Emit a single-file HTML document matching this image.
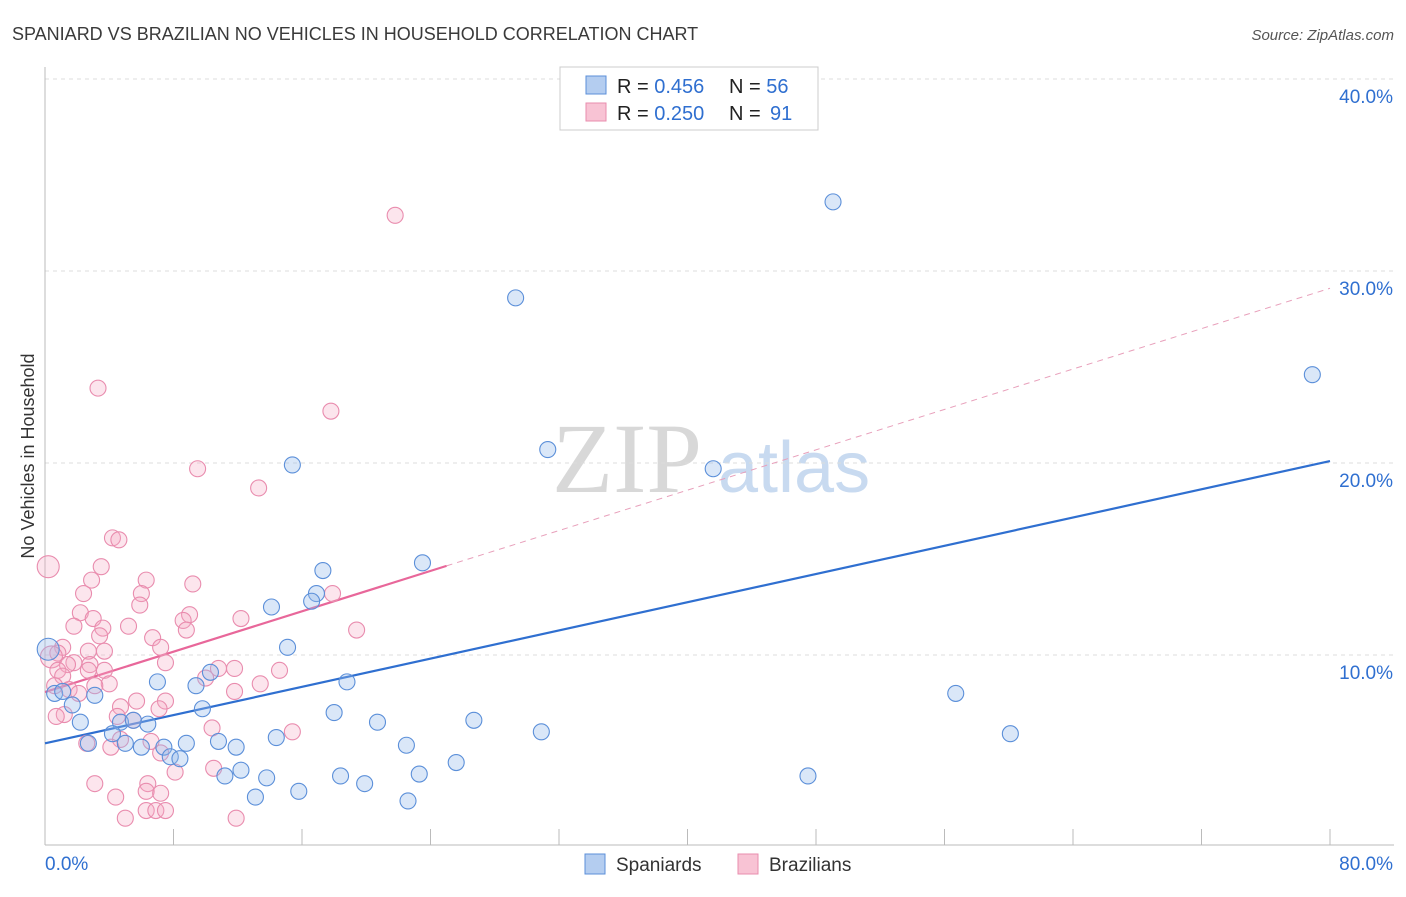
<!DOCTYPE html>
<html><head><meta charset="utf-8"><style>
body{margin:0;background:#fff;font-family:"Liberation Sans",sans-serif}
</style></head><body>
<svg id="chart" width="1406" height="892" xmlns="http://www.w3.org/2000/svg" font-family="Liberation Sans, sans-serif">
<text x="12" y="40" font-size="18" fill="#3a3a3a">SPANIARD VS BRAZILIAN NO VEHICLES IN HOUSEHOLD CORRELATION CHART</text>
<text x="1394" y="40" font-size="15" fill="#555" font-style="italic" text-anchor="end">Source: ZipAtlas.com</text>
<text x="34" y="456" font-size="18" fill="#333" text-anchor="middle" transform="rotate(-90 34 456)">No Vehicles in Household</text>
<g><text x="552" y="492" font-size="100" fill="#d8d8d8" style="font-family:'Liberation Serif',serif">ZIP</text><text x="718" y="492" font-size="72" fill="#c8daf0" style="font-family:'Liberation Sans',sans-serif">atlas</text></g>
<g id="grid"></g><g id="axes"></g><g id="lines"></g><g id="pts"></g>
<g>
<rect x="560" y="67" width="258" height="63" fill="#fff" stroke="#ccc"/>
<rect x="586" y="76" width="20" height="18" fill="#b4cdf0" stroke="#5b8fd9"/>
<rect x="586" y="103" width="20" height="18" fill="#f8c3d4" stroke="#e98cae"/>
<text x="617" y="93" font-size="20" fill="#222">R = <tspan fill="#2f6fd0">0.456</tspan></text>
<text x="729" y="93" font-size="20" fill="#222">N = <tspan fill="#2f6fd0">56</tspan></text>
<text x="617" y="120" font-size="20" fill="#222">R = <tspan fill="#2f6fd0">0.250</tspan></text>
<text x="729" y="120" font-size="20" fill="#222">N = <tspan fill="#2f6fd0" x="770">91</tspan></text>
</g>
<g>
<rect x="585" y="854" width="20" height="20" fill="#b4cdf0" stroke="#5b8fd9"/>
<text x="616" y="871" font-size="19" fill="#333">Spaniards</text>
<rect x="738" y="854" width="20" height="20" fill="#f8c3d4" stroke="#e98cae"/>
<text x="769" y="871" font-size="19" fill="#333">Brazilians</text>
</g>
</svg>
<script>
const yTicks=[10,20,30,40];
const xTickLabels=["0.0%","80.0%"];
const blueX=[49.06,29.3,78.9,31.3,41.6,15.4,23.5,17.3,16.9,16.6,14.1,15.1,0.2,7.0,10.3,9.4,18.8,56.7,0.6,1.1,3.1,1.7,9.8,18.0,2.2,26.7,20.7,4.7,6.4,5.5,30.9,60.1,4.2,14.4,10.8,2.7,5.0,8.8,22.5,7.4,6.0,11.9,7.8,8.4,25.6,12.2,11.2,13.8,18.4,23.3,47.5,19.9,15.8,13.1,22.6];
const blueY=[33.6,28.6,24.6,20.7,19.7,19.9,14.8,14.4,13.2,12.8,12.5,10.4,10.3,8.6,9.1,8.4,8.6,8.0,8.0,8.1,7.9,7.4,7.2,7.0,6.5,6.6,6.5,6.5,6.4,6.6,6.0,5.9,5.9,5.7,5.5,5.4,5.4,5.4,5.3,5.2,5.2,5.2,4.7,4.6,4.4,4.0,3.7,3.6,3.7,3.8,3.7,3.3,2.9,2.6,2.4];
const pinkX=[21.8,3.3,17.8,9.5,13.3,0.2,4.2,4.6,3.5,2.9,6.3,9.2,6.0,2.4,17.9,5.9,2.2,9.0,3.0,12.2,8.6,5.2,1.8,19.4,8.8,3.6,3.4,6.7,7.2,1.1,2.7,3.7,0.8,0.4,7.5,1.8,1.4,2.8,10.8,11.8,3.7,14.6,0.8,2.7,1.1,10.0,4.0,0.6,3.1,13.4,11.8,1.5,2.1,5.7,7.5,4.7,7.1,1.2,0.7,4.5,5.5,10.4,15.4,4.7,6.6,2.6,4.1,7.2,8.1,10.5,3.1,6.4,6.3,7.2,4.4,6.3,6.9,7.5,5.0,11.9];
const pinkY=[32.9,23.9,22.7,19.7,18.7,14.6,16.1,16.0,14.6,13.9,13.9,13.7,13.2,13.2,13.2,12.6,12.2,12.1,11.9,11.9,11.8,11.5,11.5,11.3,11.3,11.4,11.0,10.9,10.4,10.4,10.2,10.2,10.1,9.9,9.6,9.6,9.5,9.5,9.3,9.3,9.2,9.2,9.2,9.2,8.9,8.8,8.5,8.4,8.4,8.5,8.1,8.2,8.0,7.6,7.6,7.3,7.2,6.9,6.8,6.8,6.6,6.2,6.0,5.6,5.5,5.4,5.2,4.9,3.9,4.1,3.3,3.3,2.9,2.8,2.6,1.9,1.9,1.9,1.5,1.5];
const blueLine=[5.4,20.1];
const pinkLine=[8.07,29.1];
const pinkSolidEnd=25;
const X=v=>45+v/80*1285, Y=v=>847-v*19.2;
const NS="http://www.w3.org/2000/svg";
function mk(t,a,p){const e=document.createElementNS(NS,t);for(const k in a)e.setAttribute(k,a[k]);document.getElementById(p).appendChild(e);return e;}
for(const t of yTicks){
 const g=mk('line',{x1:45,x2:1394,y1:Y(t),y2:Y(t),stroke:'#ddd','stroke-dasharray':'4 4'},'grid');
 
 
 const l=mk('text',{x:1393,y:Y(t)+24,'font-size':19,fill:'#2f6fd0','text-anchor':'end'},'grid');l.textContent=t.toFixed(1)+'%';
 
 
}
const ax=mk('line',{x1:45,x2:1394,y1:845,y2:845,stroke:'#bbb'},'axes');


const ay=mk('line',{x1:45,x2:45,y1:67,y2:845,stroke:'#bbb'},'axes');


for(let i=0;i<=10;i++){const tk=mk('line',{x1:X(i*8),x2:X(i*8),y1:829,y2:845,stroke:'#bbb'},'axes');
 
 }
const x0=mk('text',{x:45,y:870,'font-size':19,fill:'#2f6fd0'},'axes');x0.textContent=xTickLabels[0];


const x1=mk('text',{x:1393,y:870,'font-size':19,fill:'#2f6fd0','text-anchor':'end'},'axes');x1.textContent=xTickLabels[1];


function pts(xs,ys,stroke,fill,name){for(let i=0;i<xs.length;i++){const c=mk('circle',{cx:X(xs[i]),cy:Y(ys[i]),r:(xs[i]<0.5?11:8),fill:fill,stroke:stroke,'stroke-width':1.1},'pts');
 
 }}
pts(pinkX,pinkY,'#e98cae','rgba(245,170,195,0.3)','brazilian-point');
pts(blueX,blueY,'#5b8fd9','rgba(150,185,235,0.35)','spaniard-point');
const bl=mk('line',{x1:X(0),y1:Y(blueLine[0]),x2:X(80),y2:Y(blueLine[1]),stroke:'#2f6fd0','stroke-width':2.2},'lines');


const pv=x=>pinkLine[0]+(pinkLine[1]-pinkLine[0])*x/80;
const ps=mk('line',{x1:X(0),y1:Y(pv(0)),x2:X(pinkSolidEnd),y2:Y(pv(pinkSolidEnd)),stroke:'#e8679a','stroke-width':2.2},'lines');


const pd=mk('line',{x1:X(pinkSolidEnd),y1:Y(pv(pinkSolidEnd)),x2:X(80),y2:Y(pv(80)),stroke:'#e8a0bb','stroke-width':1,'stroke-dasharray':'6 5'},'lines');


</script>
</body></html>
